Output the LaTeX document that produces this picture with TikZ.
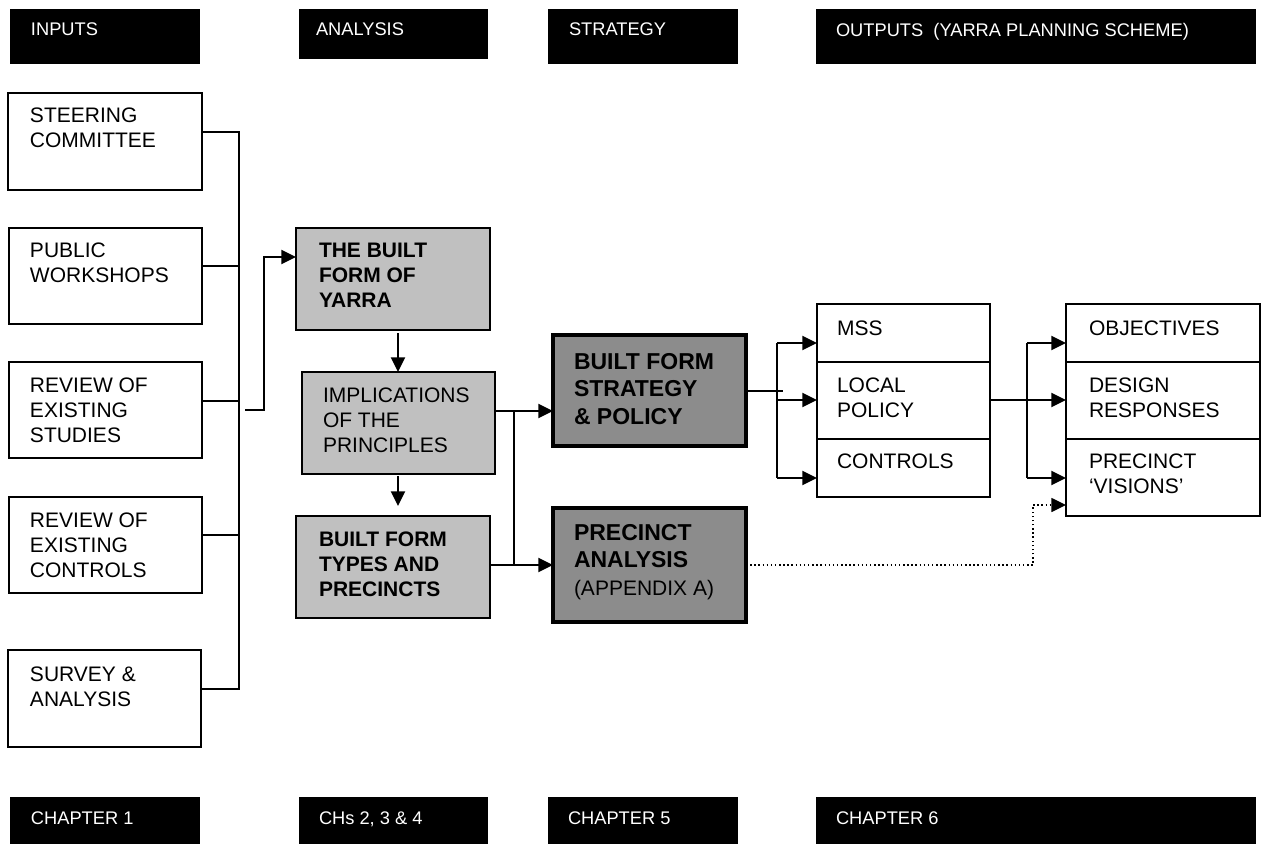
\documentclass[tikz,border=0pt]{standalone}
\usepackage{fontspec}
\setmainfont{Liberation Sans}
\usetikzlibrary{arrows.meta}
\definecolor{lightg}{HTML}{C0C0C0}
\definecolor{darkg}{HTML}{8C8C8C}
\begin{document}
\begin{tikzpicture}[x=0.75pt,y=-0.75pt,
  sz/.style 2 args={minimum width=#1*0.75pt, minimum height=#2*0.75pt},
  boxbase/.style={rectangle, anchor=north west, inner sep=0pt, outer sep=0pt},
  wbox/.style={boxbase, draw=black, line width=1.5pt, fill=white},
  lbox/.style={boxbase, draw=black, line width=1.5pt, fill=lightg},
  dbox/.style={boxbase, draw=black, line width=2.6pt, fill=darkg},
  bar/.style={boxbase, fill=black},
  txt/.style={anchor=north west, inner sep=0pt, outer sep=0pt, align=left,
              font=\fontsize{15.75}{18.75}\selectfont},
  btxt/.style={txt, font=\fontsize{15.75}{18.75}\selectfont\bfseries},
  stxt/.style={txt, font=\fontsize{17.25}{20.8}\selectfont},
  htxt/.style={anchor=north west, inner sep=0pt, outer sep=0pt, text=white,
               font=\fontsize{13.7}{16}\selectfont},
  conn/.style={line width=1.5pt},
  arr/.style={line width=1.5pt, -{Triangle[length=11pt,width=10.5pt]}},
  darr/.style={line width=1.1pt, dotted, -{Triangle[length=11pt,width=10.5pt]}}
]
\useasboundingbox (0,0) rectangle (1261,845);

% header bars
\node[bar, sz={190}{55}] (hin) at (10,9) {};
\node[bar, sz={189}{50}] (han) at (299,9) {};
\node[bar, sz={190}{55}] (hst) at (548,9) {};
\node[bar, sz={440}{55}] (hout) at (816,9) {};
\node[htxt] (hin-t) at ([shift={(21,14)}]hin.north west) {INPUTS};
\node[htxt] (han-t) at ([shift={(17,14)}]han.north west) {ANALYSIS};
\node[htxt] (hst-t) at ([shift={(21,14)}]hst.north west) {STRATEGY};
\node[htxt] (hout-t) at ([shift={(20,14)}]hout.north west) {OUTPUTS\ \ (YARRA PLANNING SCHEME)};

% footer bars
\node[bar, sz={190}{47}] (fin) at (10,797) {};
\node[bar, sz={189}{47}] (fan) at (299,797) {};
\node[bar, sz={190}{47}] (fst) at (548,797) {};
\node[bar, sz={440}{47}] (fout) at (816,797) {};
\node[htxt] (fin-t) at ([shift={(21,15)}]fin.north west) {CHAPTER 1};
\node[htxt] (fan-t) at ([shift={(20,15)}]fan.north west) {CHs 2, 3 \& 4};
\node[htxt] (fst-t) at ([shift={(20,15)}]fst.north west) {CHAPTER 5};
\node[htxt] (fout-t) at ([shift={(20,15)}]fout.north west) {CHAPTER 6};

% input boxes
\node[wbox, sz={194}{97}] (steer) at (8,93) {};
\node[wbox, sz={193}{96}] (public) at (9,228) {};
\node[wbox, sz={193}{96}] (studies) at (9,362) {};
\node[wbox, sz={193}{96}] (ctrlin) at (9,497) {};
\node[wbox, sz={193}{97}] (survey) at (8,650) {};
\node[txt] (steer-t) at ([shift={(22,15)}]steer.north west) {STEERING\\COMMITTEE};
\node[txt] (public-t) at ([shift={(21,15)}]public.north west) {PUBLIC\\WORKSHOPS};
\node[txt] (studies-t) at ([shift={(21,16)}]studies.north west) {REVIEW OF\\EXISTING\\STUDIES};
\node[txt] (ctrlin-t) at ([shift={(21,16)}]ctrlin.north west) {REVIEW OF\\EXISTING\\CONTROLS};
\node[txt] (survey-t) at ([shift={(22,17)}]survey.north west) {SURVEY \&\\ANALYSIS};

% analysis boxes
\node[lbox, sz={194}{102}] (yarra) at (296,228) {};
\node[lbox, sz={193}{102}] (impl) at (302,372) {};
\node[lbox, sz={194}{102}] (types) at (296,516) {};
\node[btxt] (yarra-t) at ([shift={(23,15)}]yarra.north west) {THE BUILT\\FORM OF\\YARRA};
\node[txt] (impl-t) at ([shift={(21,16)}]impl.north west) {IMPLICATIONS\\OF THE\\PRINCIPLES};
\node[btxt] (types-t) at ([shift={(23,16)}]types.north west) {BUILT FORM\\TYPES AND\\PRECINCTS};

% strategy boxes
\node[dbox, sz={193}{111}] (strat) at (553,335) {};
\node[dbox, sz={193}{114}] (prec) at (553,508) {};
\node[stxt, font=\fontsize{17.25}{20.8}\selectfont\bfseries] (strat-t) at ([shift={(21,18)}]strat.north west) {BUILT FORM\\STRATEGY\\\& POLICY};
\node[txt, font=\fontsize{17.25}{20.8}\selectfont] (prec-t) at ([shift={(21,16)}]prec.north west)
  {\textbf{PRECINCT}\\\textbf{ANALYSIS}\\\fontsize{15.75}{18.75}\selectfont(APPENDIX A)};

% planning scheme stacks
\node[wbox, sz={173}{58}] (mss) at (817,304) {};
\node[wbox, sz={173}{77}] (local) at (817,362) {};
\node[wbox, sz={173}{58}] (ctrl) at (817,439) {};
\node[txt] (mss-t) at ([shift={(20,17)}]mss.north west) {MSS};
\node[txt] (local-t) at ([shift={(20,16)}]local.north west) {LOCAL\\POLICY};
\node[txt] (ctrl-t) at ([shift={(20,15)}]ctrl.north west) {CONTROLS};

\node[wbox, sz={194}{58}] (obj) at (1066,304) {};
\node[wbox, sz={194}{77}] (design) at (1066,362) {};
\node[wbox, sz={194}{77}] (visions) at (1066,439) {};
\node[txt] (obj-t) at ([shift={(23,17)}]obj.north west) {OBJECTIVES};
\node[txt] (design-t) at ([shift={(23,16)}]design.north west) {DESIGN\\RESPONSES};
\node[txt] (visions-t) at ([shift={(23,15)}]visions.north west) {PRECINCT\\‘VISIONS’};

% input bus
\coordinate (b1) at (239,132);
\coordinate (b2) at (239,266);
\coordinate (b3) at (239,401);
\coordinate (b4) at (239,535);
\coordinate (b5) at (239,689);
\draw[conn] (b1 -| steer.east) -- (b1) -- (b5) -- (b5 -| survey.east);
\draw[conn] (b2 -| public.east) -- (b2);
\draw[conn] (b3 -| studies.east) -- (b3);
\draw[conn] (b4 -| ctrlin.east) -- (b4);

% bus to built form of yarra
\coordinate (y0) at (245,410);
\coordinate (y1) at (264,410);
\coordinate (y2) at (264,257);
\draw[arr] (y0) -- (y1) -- (y2) -- (y2 -| yarra.west);

% vertical arrows in analysis
\coordinate (v1) at (398,333);
\coordinate (v2) at (398,476);
\draw[arr] (v1) -- (v1 |- impl.north);
\draw[arr] (v2) -- ([yshift=7.5pt]v2 |- types.north);

% analysis to strategy
\coordinate (j1) at (514,411);
\coordinate (j2) at (514,565);
\draw[arr] (j1 -| impl.east) -- (j1 -| strat.west);
\draw[conn] (j1) -- (j2);
\draw[arr] (j2 -| types.east) -- (j2 -| prec.west);

% strategy to MSS stack
\coordinate (s1) at (777,391);
\coordinate (m1) at (777,343);
\coordinate (m2) at (777,400);
\coordinate (m3) at (777,478);
\draw[conn] (s1 -| strat.east) -- ([xshift=4.5pt]s1);
\draw[conn] (m1) -- (m3);
\draw[arr] (m1) -- (m1 -| mss.west);
\draw[arr] (m2) -- (m2 -| local.west);
\draw[arr] (m3) -- (m3 -| ctrl.west);

% local policy to outputs stack
\coordinate (o1) at (1027,343);
\coordinate (o2) at (1027,400);
\coordinate (o3) at (1027,478);
\draw[conn] (o1) -- (o3);
\draw[arr] (o2 -| local.east) -- (o2 -| design.west);
\draw[arr] (o1) -- (o1 -| obj.west);
\draw[arr] (o3) -- (o3 -| visions.west);

% dotted precinct analysis to visions
\coordinate (d1) at (1033,565);
\coordinate (d2) at (1033,505);
\draw[darr] (d1 -| prec.east) -- (d1) -- (d2) -- (d2 -| visions.west);
\end{tikzpicture}
\end{document}
